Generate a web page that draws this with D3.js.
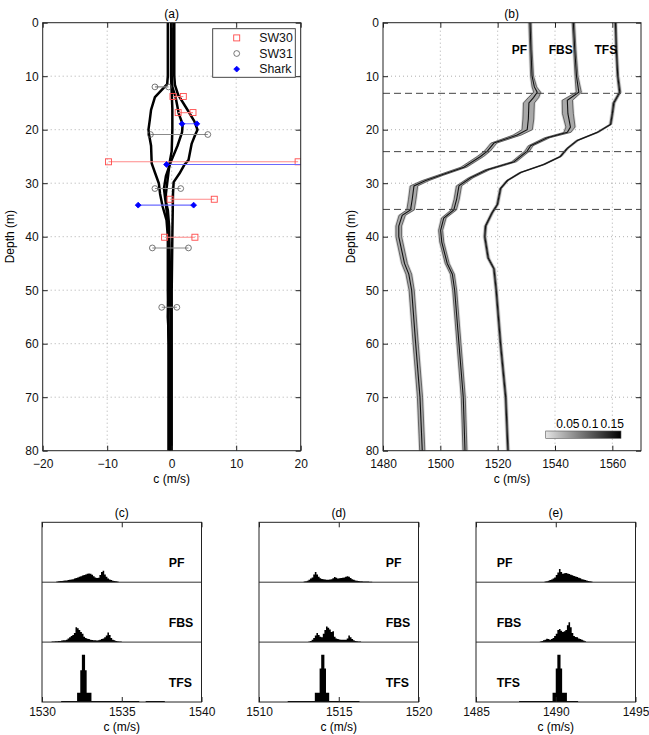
<!DOCTYPE html>
<html>
<head>
<meta charset="utf-8">
<script src="https://cdn.jsdelivr.net/npm/d3@7"></script>
<style>
  body { margin: 0; background: #fff; }
  text { font-family: "Liberation Sans", Arial, Helvetica, sans-serif; }
</style>
</head>
<body>
<svg id="fig" width="649" height="735"></svg>
<script>
// ---- panel (a): sound speed differences, [depth, c] pairs ----
const diffProfile1 = [[0,-0.6],[10,-0.6],[11.5,-0.7],[12.5,-1.5],[13.9,-2.6],[16.3,-3.2],[18.2,-3.4],[20,-3.6],[21,-3.5],[23,-3.2],[26.3,-3.1],[28,-2.6],[30,-2.0],[32,-1.8],[34.4,-1.4],[36.9,-0.8],[40,-0.6],[50,-0.6],[60,-0.5],[80,-0.5]];
const diffProfile2 = [[0,-0.1],[10,-0.1],[13,0.0],[16,0.1],[20,0.1],[24,0.0],[26,-0.3],[28,-0.5],[30,-0.7],[32,-0.9],[34,-0.9],[36,-0.7],[38,-0.5],[45,-0.4],[50,-0.5],[55,-0.6],[60,-0.4],[80,-0.3]];
const diffProfile3 = [[0,0.0],[10,0.0],[12,0.1],[13.9,0.6],[17,1.1],[19,1.7],[20.5,1.6],[23,0.9],[26.2,-0.2],[28.7,-0.9],[31,-1.2],[33,-1.0],[35,-0.6],[38,-0.4],[45,-0.3],[55,-0.2],[80,-0.2]];
const diffProfile4 = [[0,0.4],[10,0.4],[11.6,0.5],[13.5,1.0],[15.8,2.2],[18.4,3.5],[20,4.0],[21.1,3.6],[22.6,3.1],[25.7,2.6],[26.5,2.0],[28.2,1.2],[29.8,0.3],[32,0.2],[40,0.1],[50,0.0],[80,0.0]];

const sw30Depth = [13.8, 16.8, 26.0, 33.0, 40.1];
const sw30Lo    = [0.2, 1.0, -9.8, -0.25, -1.1];
const sw30Hi    = [1.8, 3.3, 19.6, 6.6, 3.6];
const sw31Depth = [12.0, 20.9, 31.0, 42.1, 53.2];
const sw31Lo    = [-2.6, -3.3, -2.6, -3.0, -1.55];
const sw31Hi    = [-0.5, 5.6, 1.4, 2.6, 0.8];
const sharkDepth = [18.9, 26.5, 34.1];
const sharkLo    = [1.6, -0.8, -5.2];
const sharkHi    = [3.9, 24.0, 3.4];

// ---- panel (b): inverted profiles ----
const pfDepth  = [0, 5, 10, 12, 13, 14, 15, 18, 20, 21, 22.5, 24, 25, 27, 28.5, 29.5, 30.5, 33, 35, 36, 38, 40, 45, 47, 50, 60, 70, 80];
const pfC      = [1531.3, 1531.6, 1532.0, 1532.8, 1533.8, 1532.5, 1530.9, 1530.7, 1530.3, 1526.8, 1518.7, 1516.4, 1514.0, 1508.2, 1500.1, 1494.9, 1490.8, 1490.2, 1489.6, 1486.7, 1485.5, 1485.5, 1487.5, 1489.0, 1490.0, 1491.4, 1492.9, 1493.7];
const pfSpread = [0.4, 0.4, 0.5, 0.8, 1.2, 1.8, 1.9, 1.9, 1.8, 1.4, 1.0, 1.0, 1.1, 1.0, 1.0, 1.2, 1.3, 1.3, 1.3, 1.1, 1.0, 1.0, 1.0, 1.0, 0.9, 0.9, 0.9, 0.9];
const fbsDepth  = [0, 5, 10, 13, 14.5, 17, 19.5, 20.5, 21.5, 23, 24, 26, 27.5, 29, 30.5, 33, 35, 36.5, 38.8, 41, 45, 47, 50, 60, 70, 80];
const fbsC      = [1546.4, 1546.9, 1547.5, 1548.3, 1544.3, 1544.5, 1545.4, 1544.3, 1537.3, 1531.5, 1530.3, 1525.7, 1516.4, 1510.6, 1506.5, 1505.7, 1504.7, 1501.2, 1500.1, 1500.5, 1502.4, 1504.2, 1505.0, 1506.5, 1508.0, 1508.6];
const fbsSpread = [0.4, 0.4, 0.5, 0.9, 1.8, 1.9, 1.6, 1.2, 0.9, 0.8, 0.8, 0.8, 0.8, 0.8, 0.9, 0.9, 0.9, 0.8, 0.7, 0.7, 0.7, 0.7, 0.7, 0.7, 0.7, 0.7];
const tfsDepth  = [0, 5, 10, 13, 15, 17, 19, 20.5, 22, 23.5, 25, 26.5, 28, 29.5, 31, 34, 35.5, 38, 40, 44, 46, 50, 60, 70, 80];
const tfsC      = [1561.1, 1561.4, 1561.9, 1562.6, 1560.5, 1560.0, 1559.4, 1554.8, 1547.8, 1544.3, 1541.9, 1536.1, 1528.0, 1523.4, 1521.0, 1519.9, 1518.1, 1515.8, 1515.5, 1516.7, 1518.7, 1519.5, 1521.0, 1522.8, 1523.6];
const tfsSpread = [0.3, 0.3, 0.3, 0.35, 0.35, 0.3, 0.3, 0.35, 0.35, 0.3, 0.3, 0.35, 0.35, 0.3, 0.3, 0.3, 0.3, 0.3, 0.3, 0.3, 0.3, 0.3, 0.3, 0.3, 0.3];
const layerDepths = [13.2, 24.1, 34.9];
const profileNames = ["PF", "FBS", "TFS"];
const colorbarTicks = [0.05, 0.1, 0.15];

// ---- panels (c)-(e): histograms, 0.1 m/s bins, first bin start + heights ----
const histStart = { c: [1530.9, 1530.6, 1531.2], d: [1512.8, 1513.1, 1511.8], e: [1489.3, 1489.0, 1487.7] };
const histDomains = [[1530, 1540], [1510, 1520], [1485, 1495]];
const histC_PF  = [1, 1.5, 2, 2, 2.5, 3, 3, 3.5, 4, 4.5, 5, 6, 7, 8, 9, 10, 11, 12, 13, 14, 14.5, 14, 12.5, 10, 8, 7, 7.5, 12, 17, 19, 13, 9, 6, 4.5, 3.5, 2.5, 2, 1.5, 1];
const histC_FBS = [1, 1, 1.5, 1.5, 2, 2, 2.5, 3, 3, 4, 6, 8, 10, 12, 15, 25, 23, 20, 17, 14, 9, 7, 5.5, 5, 4, 3.5, 3, 3, 2.5, 3, 4, 5, 6, 8, 11, 16, 12, 7, 4, 3, 2, 1.5, 1, 1];
const histC_TFS = [1.5, 1.5, 1.5, 1.5, 1.5, 1.5, 1.5, 1.5, 1.5, 1.5, 15.6, 15.6, 53, 79, 79, 53, 15.6, 15.6, 15.6,
  1.5, 1.5, 1.5, 1.5, 1.5, 1.5, 1.5, 1.5, 1.5, 1.5, 1.5, 1.5, 1.5, 1.5, 1.5, 1.5, 1.5, 1.5, 1.5, 1.5, 1.5, 1.5, 1.5, 1.5, 1.5, 1.5, 1.5, 1.5, 1.5, 1.5,
  0, 0, 0, 0, 1.5, 1.5, 1.5, 1.5, 1.5, 1.5, 1.5, 1.5, 1.5, 1.5, 1.5, 1.5];
const histD_PF  = [1, 1.5, 2.5, 4, 6, 8, 13, 17, 13, 9, 6.5, 5.5, 5, 4.5, 4, 4, 4.5, 5, 6.5, 8.5, 7.5, 6, 6.5, 7, 7.5, 8, 9, 10, 9, 7, 5, 4, 3, 2.5, 2, 1.5, 1.5, 1, 1, 1, 1, 0.8, 0.8];
const histD_FBS = [1, 2, 4, 7, 11, 15, 12, 9, 8, 14, 20, 26, 24, 21, 17, 18, 9, 6, 5, 4.5, 4, 4, 4, 4, 6, 11, 8, 5, 3, 2, 1.5, 1, 1];
const histD_TFS = [1.5, 1.5, 1.5, 1.5, 1.5, 1.5, 1.5, 1.5, 1.5, 1.5, 1.5, 1.5, 1.5, 1.5, 1.5, 1.5, 1.5, 15.6, 15.6, 15.6, 56, 79, 79, 56, 15.6, 15.6,
  1.5, 1.5, 1.5, 1.5, 1.5, 1.5, 1.5, 1.5, 1.5, 1.5, 1.5, 1.5, 1.5, 1.5, 1.5, 1.5, 1.5, 1.5, 1.5];
const histE_PF  = [1, 1.5, 2.5, 3.5, 4.5, 6, 8, 12, 16, 22, 17, 14, 15, 15.5, 14.5, 13.5, 12.5, 11.5, 10.5, 9.5, 8.5, 7.5, 6.5, 5, 4.5, 3.5, 3, 2, 1.5, 1];
const histE_FBS = [1, 2, 3, 4, 5.5, 5, 4, 5, 7, 10, 14, 20, 22, 19, 17, 18, 20, 28, 33, 25, 15, 10, 8.5, 8, 6, 5, 4, 2.5, 1.5];
const histE_TFS = [1.5, 1.5, 1.5, 1.5, 1.5, 1.5, 1.5, 1.5, 1.5, 1.5, 1.5, 1.5, 1.5, 1.5, 1.5, 1.5, 1.5, 1.5, 1.5, 1.5, 1.5, 15.6, 15.6, 56, 79, 79, 56, 15.6, 15.6, 15.6,
  1.5, 1.5, 1.5, 1.5, 1.5, 1.5, 1.5];

const svg = d3.select("#fig");
const FS = 12;
const axisColor = "#222";

function gridAndBox(g, x, y, xGrid, yGrid) {
  const [x0, x1] = x.range(), [y0, y1] = y.range();
  g.append("g").selectAll("line").data(xGrid).join("line")
    .attr("x1", d => x(d)).attr("x2", d => x(d)).attr("y1", y0).attr("y2", y1)
    .attr("stroke", "#999").attr("stroke-width", 0.8).attr("stroke-dasharray", "1,3");
  g.append("g").selectAll("line").data(yGrid).join("line")
    .attr("y1", d => y(d)).attr("y2", d => y(d)).attr("x1", x0).attr("x2", x1)
    .attr("stroke", "#999").attr("stroke-width", 0.8).attr("stroke-dasharray", "1,3");
}

function axes(g, x, y, xTicks, yTicks, xFmt, pad) {
  const [x0, x1] = x.range(), [y0, y1] = y.range();
  const bottom = g.append("g").attr("transform", `translate(0,${y1})`)
    .call(d3.axisBottom(x).tickValues(xTicks).tickSize(-5).tickSizeOuter(0).tickPadding(pad || 6.5).tickFormat(xFmt || d3.format("d")));
  const top = g.append("g").attr("transform", `translate(0,${y0})`)
    .call(d3.axisTop(x).tickValues(xTicks).tickSize(-5).tickSizeOuter(0).tickFormat(""));
  [bottom, top].forEach(a => a.select(".domain").remove());
  if (yTicks) {
    const left = g.append("g").attr("transform", `translate(${x0},0)`)
      .call(d3.axisLeft(y).tickValues(yTicks).tickSize(-5).tickSizeOuter(0).tickPadding(4));
    const right = g.append("g").attr("transform", `translate(${x1},0)`)
      .call(d3.axisRight(y).tickValues(yTicks).tickSize(-5).tickSizeOuter(0).tickFormat(""));
    [left, right].forEach(a => a.select(".domain").remove());
  }
  g.selectAll(".tick text").attr("font-size", FS).attr("fill", "#111")
    .attr("font-family", "Liberation Sans, Arial, sans-serif");
  g.selectAll(".tick line").attr("stroke", axisColor);
  g.append("rect").attr("x", x0).attr("y", y0).attr("width", x1 - x0).attr("height", y1 - y0)
    .attr("fill", "none").attr("stroke", axisColor).attr("stroke-width", 1);
}

// ================= panel (a) =================
const xA = d3.scaleLinear().domain([-20, 20]).range([42.7, 300.7]);
const yA = d3.scaleLinear().domain([0, 80]).range([22.7, 450.7]);
const gA = svg.append("g");
gA.append("defs").append("clipPath").attr("id", "clipA")
  .append("rect").attr("x", 42.7).attr("y", 22.7).attr("width", 258).attr("height", 428);
gridAndBox(gA, xA, yA, [-10, 0, 10], d3.range(10, 80, 10));

const lineA = d3.line().x(p => xA(p[1])).y(p => yA(p[0]));
const plotA = gA.append("g").attr("clip-path", "url(#clipA)");
plotA.selectAll("path.diff").data([diffProfile1, diffProfile2, diffProfile3, diffProfile4]).join("path")
  .attr("class", "diff").attr("d", lineA).attr("fill", "none")
  .attr("stroke", "#000").attr("stroke-width", 2.5).attr("stroke-linejoin", "round");

const pairSets = [
  { depth: sw30Depth, lo: sw30Lo, hi: sw30Hi, line: "#ff8a8a", marker: "square", color: "#ff4a4a" },
  { depth: sw31Depth, lo: sw31Lo, hi: sw31Hi, line: "#8a8a8a", marker: "circle", color: "#555" },
  { depth: sharkDepth, lo: sharkLo, hi: sharkHi, line: "#6a6aff", marker: "diamond", color: "#0000ff" }
];
function drawMarker(sel, type, color) {
  if (type === "square") {
    sel.append("rect").attr("x", -3).attr("y", -3).attr("width", 6).attr("height", 6)
      .attr("fill", "none").attr("stroke", color).attr("stroke-width", 0.9);
  } else if (type === "circle") {
    sel.append("circle").attr("r", 2.9).attr("fill", "none").attr("stroke", color).attr("stroke-width", 0.8);
  } else {
    sel.append("path").attr("d", d3.symbol(d3.symbolDiamond2, 22)()).attr("fill", color).attr("stroke", color).attr("stroke-width", 0.8);
  }
}
pairSets.forEach(s => {
  const rows = s.depth.map((d, i) => ({ d, lo: s.lo[i], hi: s.hi[i] }));
  plotA.append("g").selectAll("line").data(rows).join("line")
    .attr("x1", r => xA(r.lo)).attr("x2", r => xA(r.hi))
    .attr("y1", r => yA(r.d)).attr("y2", r => yA(r.d))
    .attr("stroke", s.line).attr("stroke-width", 1.1);
  const pts = rows.flatMap(r => [{ d: r.d, c: r.lo }, { d: r.d, c: r.hi }]);
  plotA.append("g").selectAll("g").data(pts).join("g")
    .attr("transform", p => `translate(${xA(p.c)},${yA(p.d)})`)
    .each(function () { drawMarker(d3.select(this), s.marker, s.color); });
});
axes(gA, xA, yA, [-20, -10, 0, 10, 20], d3.range(0, 81, 10), null, 8.5);

// legend
const leg = gA.append("g");
leg.append("rect").attr("x", 212.7).attr("y", 28.7).attr("width", 82.6).attr("height", 48.6)
  .attr("fill", "#fff").attr("stroke", "#333").attr("stroke-width", 0.9);
["SW30", "SW31", "Shark"].forEach((name, i) => {
  const yy = 37.9 + i * 15.6;
  const m = leg.append("g").attr("transform", `translate(236.7,${yy})`);
  drawMarker(m, pairSets[i].marker, pairSets[i].color);
  leg.append("text").attr("x", 259.3).attr("y", yy + 4.3).attr("font-size", 12.3).attr("fill", "#111").text(name);
});
gA.append("text").attr("x", 171.7).attr("y", 17.5).attr("text-anchor", "middle").attr("font-size", 12).text("(a)");
gA.append("text").attr("transform", "translate(14,236.7) rotate(-90)").attr("text-anchor", "middle")
  .attr("font-size", 12).text("Depth (m)");
gA.append("text").attr("x", 171.7).attr("y", 482.5).attr("text-anchor", "middle").attr("font-size", 12).text("c (m/s)");

// ================= panel (b) =================
const xB = d3.scaleLinear().domain([1480, 1570]).range([383, 641]);
const yB = d3.scaleLinear().domain([0, 80]).range([22.7, 450.7]);
const gB = svg.append("g");
gB.append("defs").append("clipPath").attr("id", "clipB")
  .append("rect").attr("x", 383).attr("y", 22.7).attr("width", 258).attr("height", 428);
gridAndBox(gB, xB, yB, [1500, 1520, 1540, 1560], d3.range(10, 80, 10));
const plotB = gB.append("g").attr("clip-path", "url(#clipB)");

const profiles = [[pfDepth, pfC, pfSpread], [fbsDepth, fbsC, fbsSpread], [tfsDepth, tfsC, tfsSpread]]
  .map(([dep, c, s]) => dep.map((d, i) => ({ d, c: c[i], s: s[i] })));
const halo = d3.area().y(r => yB(r.d)).x0(r => xB(r.c - r.s - 0.5)).x1(r => xB(r.c + r.s + 0.5));
const band = d3.area().y(r => yB(r.d)).x0(r => xB(r.c - r.s)).x1(r => xB(r.c + r.s));
const centre = d3.line().y(r => yB(r.d)).x(r => xB(r.c));
profiles.forEach(rows => {
  plotB.append("path").attr("d", halo(rows)).attr("fill", "#dcdcdc");
  plotB.append("path").attr("d", band(rows)).attr("fill", "#a9a9a9").attr("stroke", "#3a3a3a").attr("stroke-width", 0.7);
  plotB.append("path").attr("d", centre(rows)).attr("fill", "none").attr("stroke", "#111").attr("stroke-width", 1.1);
});
plotB.append("g").selectAll("line").data(layerDepths).join("line")
  .attr("x1", 383).attr("x2", 641).attr("y1", d => yB(d)).attr("y2", d => yB(d))
  .attr("stroke", "#444").attr("stroke-width", 1).attr("stroke-dasharray", "7,4");

const labelC = [1530.3, 1546.2, 1561.7];
profileNames.forEach((n, i) => {
  gB.append("text").attr("x", xB(labelC[i])).attr("y", yB(5.9)).attr("text-anchor", "end")
    .attr("font-size", 12).attr("font-weight", "bold").text(n);
});

// colorbar
const cb = d3.scaleLinear().domain([0, 0.17]).range([545.7, 621]);
const grad = gB.append("defs").append("linearGradient").attr("id", "cbGrad");
grad.append("stop").attr("offset", "0%").attr("stop-color", "#e4e4e4");
grad.append("stop").attr("offset", "100%").attr("stop-color", "#000");
gB.append("rect").attr("x", cb.range()[0]).attr("y", 431).attr("width", cb.range()[1] - cb.range()[0]).attr("height", 7.3)
  .attr("fill", "url(#cbGrad)").attr("stroke", "#555").attr("stroke-width", 0.6);
gB.append("g").selectAll("text").data(colorbarTicks).join("text")
  .attr("x", d => cb(d)).attr("y", 428).attr("text-anchor", "middle").attr("font-size", FS)
  .text(d => d3.format("")(d));

axes(gB, xB, yB, [1480, 1500, 1520, 1540, 1560], d3.range(0, 81, 10), null, 8.5);
gB.append("text").attr("x", 511.7).attr("y", 17.5).attr("text-anchor", "middle").attr("font-size", 12).text("(b)");
gB.append("text").attr("transform", "translate(355,236.7) rotate(-90)").attr("text-anchor", "middle")
  .attr("font-size", 12).text("Depth (m)");
gB.append("text").attr("x", 512).attr("y", 482.5).attr("text-anchor", "middle").attr("font-size", 12).text("c (m/s)");

// ================= panels (c)-(e) =================
const histPanels = [
  { key: "c", left: 42, data: [histC_PF, histC_FBS, histC_TFS], labelRight: true },
  { key: "d", left: 259, data: [histD_PF, histD_FBS, histD_TFS], labelRight: true },
  { key: "e", left: 476, data: [histE_PF, histE_FBS, histE_TFS], labelRight: false }
];
const pw = 159.5, top0 = 522.3, rowH = 59.9;
histPanels.forEach((p, pi) => {
  const g = svg.append("g");
  const dom = histDomains[pi];
  const x = d3.scaleLinear().domain(dom).range([p.left, p.left + pw]);
  const yFrame = d3.scaleLinear().domain([0, 1]).range([top0, top0 + 3 * rowH]);
  p.data.forEach((counts, ri) => {
    const base = top0 + (ri + 1) * rowH;
    const y = d3.scaleLinear().domain([0, 100]).range([base, base - rowH]);
    const lo = histStart[p.key][ri];
    const pts = counts.map((v, i) => [lo + i * 0.1, v]);
    pts.push([lo + counts.length * 0.1, counts[counts.length - 1]]);
    g.append("path").datum(pts)
      .attr("d", d3.area().curve(d3.curveStepAfter).x(q => x(q[0])).y0(base).y1(q => y(q[1])))
      .attr("fill", "#000");
    if (ri < 2) {
      g.append("line").attr("x1", p.left).attr("x2", p.left + pw).attr("y1", base).attr("y2", base)
        .attr("stroke", "#333").attr("stroke-width", 1);
    }
    g.append("text").attr("x", p.labelRight ? p.left + 126.7 : p.left + 20.7).attr("y", base - rowH + 44.5)
      .attr("font-size", 12.3).attr("font-weight", "bold").text(profileNames[ri]);
  });
  const mid = (dom[0] + dom[1]) / 2;
  axes(g, x, yFrame, [dom[0], mid, dom[1]], null, d3.format("d"), 5.5);
  g.append("text").attr("x", p.left + pw / 2).attr("y", 517).attr("text-anchor", "middle")
    .attr("font-size", 12).text(`(${p.key})`);
  g.append("text").attr("x", p.left + pw / 2).attr("y", 731).attr("text-anchor", "middle")
    .attr("font-size", 12).text("c (m/s)");
});
</script>
</body>
</html>
